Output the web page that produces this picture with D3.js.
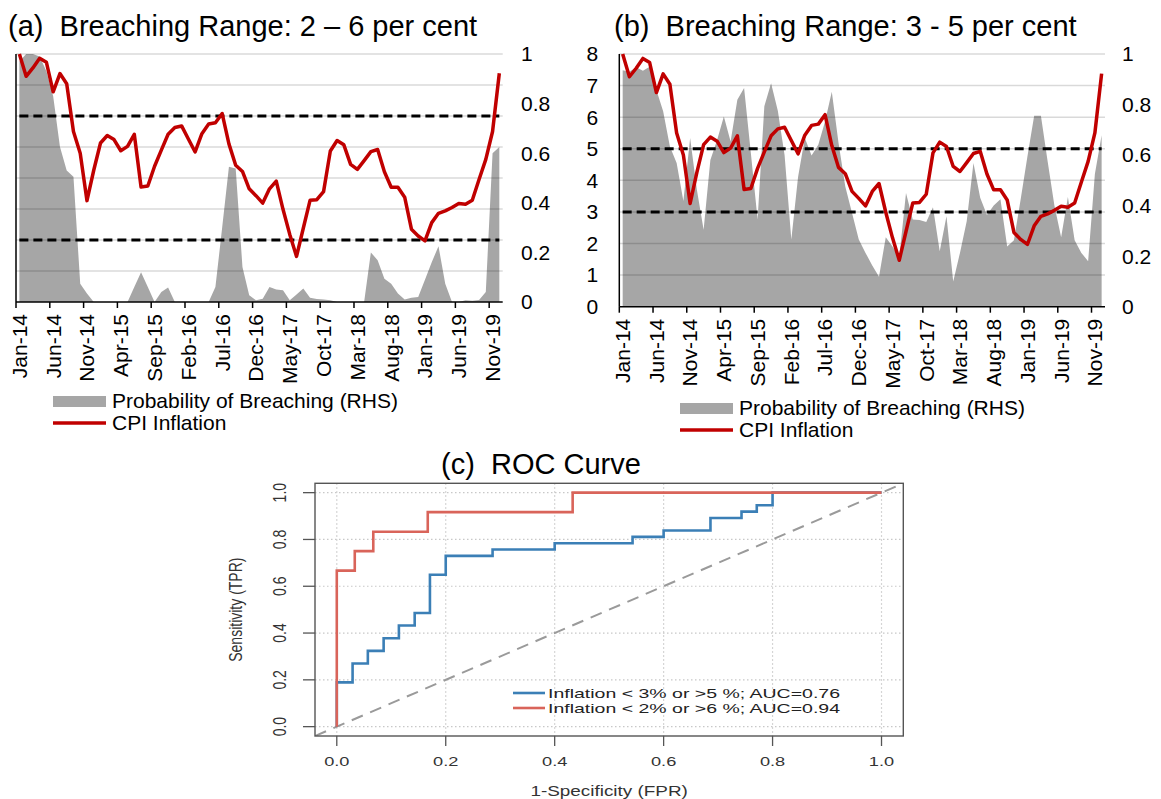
<!DOCTYPE html>
<html>
<head>
<meta charset="utf-8">
<script src="https://cdn.jsdelivr.net/npm/d3@7"></script>
<style>
    body { margin: 0; background: #fff; }
    svg { display: block; font-family: "Liberation Sans", Arial, sans-serif; }
</style>
</head>
<body>
<svg id="chart" width="1161" height="799"></svg>
<script>
// ---- data ----
const tickLabels = ["Jan-14", "Jun-14", "Nov-14", "Apr-15", "Sep-15", "Feb-16", "Jul-16", "Dec-16",
    "May-17", "Oct-17", "Mar-18", "Aug-18", "Jan-19", "Jun-19", "Nov-19"];

// monthly CPI inflation, Jan-14 .. Dec-19 (LHS, per cent)
const cpiInflation = [
    8.0, 7.28, 7.55, 7.86, 7.73, 6.78, 7.37, 7.04, 5.5, 4.8, 3.27, 4.25,
    5.13, 5.37, 5.24, 4.88, 5.02, 5.41, 3.71, 3.74, 4.38, 4.9, 5.41, 5.63,
    5.68, 5.26, 4.84, 5.43, 5.74, 5.78, 6.08, 5.1, 4.41, 4.21, 3.65, 3.43,
    3.19, 3.65, 3.9, 2.99, 2.18, 1.47, 2.38, 3.28, 3.3, 3.56, 4.87, 5.21,
    5.07, 4.44, 4.28, 4.56, 4.85, 4.92, 4.2, 3.7, 3.7, 3.38, 2.35, 2.13,
    1.97, 2.56, 2.86, 2.94, 3.05, 3.18, 3.15, 3.28, 3.95, 4.6, 5.5, 7.38
];

// probability of breaching 2-6 per cent (RHS)
const probRange26 = [
    0.97, 1.0, 1.0, 0.99, 0.93, 0.83, 0.626, 0.53, 0.505, 0.074, 0.034, 0,
    0, 0, 0, 0, 0, 0.06, 0.12, 0.06, 0, 0.04, 0.058, 0,
    0, 0, 0, 0, 0, 0.06, 0.3, 0.545, 0.538, 0.141, 0.027, 0.007,
    0.013, 0.06, 0.05, 0.047, 0.007, 0.03, 0.054, 0.017, 0.012, 0.01, 0.007, 0,
    0, 0, 0, 0, 0.2, 0.168, 0.094, 0.074, 0.034, 0.01, 0.017, 0.02,
    0.09, 0.16, 0.225, 0.074, 0, 0, 0.007, 0.005, 0.008, 0.04, 0.6, 0.625
];

// probability of breaching 3-5 per cent (RHS)
const probRange35 = [
    0.936, 0.93, 0.948, 0.934, 0.95, 0.858, 0.773, 0.634, 0.569, 0.418, 0.668, 0.463,
    0.305, 0.581, 0.66, 0.753, 0.654, 0.819, 0.865, 0.608, 0.345, 0.793, 0.884, 0.775,
    0.6, 0.266, 0.513, 0.668, 0.598, 0.641, 0.733, 0.851, 0.648, 0.476, 0.371, 0.266,
    0.213, 0.163, 0.119, 0.275, 0.238, 0.194, 0.45, 0.345, 0.343, 0.335, 0.394, 0.219,
    0.358, 0.1, 0.213, 0.338, 0.569, 0.431, 0.363, 0.4, 0.425, 0.238, 0.263, 0.425,
    0.594, 0.756, 0.756, 0.575, 0.4, 0.275, 0.434, 0.263, 0.213, 0.18, 0.525, 0.678
];

const leftTicks = [0, 1, 2, 3, 4, 5, 6, 7, 8];
const rightTicks = [0, 0.2, 0.4, 0.6, 0.8, 1];

// ROC curves, step vertices [FPR, TPR]
const rocBlue = [[0, 0], [0, 0.189], [0.029, 0.27], [0.057, 0.324], [0.086, 0.378], [0.114, 0.432],
    [0.143, 0.486], [0.171, 0.649], [0.2, 0.73], [0.286, 0.757], [0.4, 0.784], [0.543, 0.811],
    [0.6, 0.838], [0.686, 0.892], [0.743, 0.919], [0.771, 0.946], [0.8, 1.0], [1.0, 1.0]];
const rocRed = [[0, 0], [0, 0.667], [0.033, 0.75], [0.067, 0.833], [0.167, 0.917], [0.433, 1.0], [1.0, 1.0]];
const rocTicks = [0, 0.2, 0.4, 0.6, 0.8, 1.0];
const rocLegend = [
    { label: "Inflation < 3% or >5 %; AUC=0.76", color: "#3b7fb6" },
    { label: "Inflation < 2% or >6 %; AUC=0.94", color: "#d9645a" }
];

const svg = d3.select("#chart");
const red = "#c00000";
const areaGrey = "#a6a6a6";

// ---- panels (a) and (b) ----
const drawPanel = (p) => {
    const g = svg.append("g");
    const x = d3.scaleLinear().domain([0, 72]).range([p.left, p.right]);
    const yL = d3.scaleLinear().domain([0, 8]).range([p.bottom, p.top]);
    const yR = d3.scaleLinear().domain([0, 1]).range([p.bottom, p.top]);

    g.append("text")
        .attr("x", p.titleX)
        .attr("y", 36)
        .style("white-space", "pre")
        .attr("font-size", 29)
        .text(p.title);

    // probability area
    g.append("path")
        .datum(p.prob)
        .attr("fill", areaGrey)
        .attr("d", d3.area()
            .x((d, i) => x(i + 0.5))
            .y0(yL(0))
            .y1(d => yR(d)));

    // gridlines (drawn over the area, semi transparent)
    g.selectAll(".grid")
        .data(leftTicks.filter(d => d > 0))
        .join("line")
        .attr("x1", p.left)
        .attr("x2", p.right)
        .attr("y1", d => yL(d))
        .attr("y2", d => yL(d))
        .attr("stroke", "#000")
        .attr("stroke-opacity", 0.15)
        .attr("stroke-width", 1.5);

    // breaching band
    g.selectAll(".band")
        .data(p.band)
        .join("line")
        .attr("x1", x(0.5))
        .attr("x2", x(71.5))
        .attr("y1", d => yL(d))
        .attr("y2", d => yL(d))
        .attr("stroke", "#000")
        .attr("stroke-width", 3)
        .attr("stroke-dasharray", "9,5");

    // CPI line
    g.append("path")
        .datum(cpiInflation)
        .attr("fill", "none")
        .attr("stroke", red)
        .attr("stroke-width", 3.5)
        .attr("stroke-linejoin", "round")
        .attr("d", d3.line()
            .x((d, i) => x(i + 0.5))
            .y(d => yL(d)));

    // axes lines
    g.append("line")
        .attr("x1", p.left).attr("x2", p.left)
        .attr("y1", p.top).attr("y2", p.bottom)
        .attr("stroke", "#000").attr("stroke-width", 1.5);
    g.append("line")
        .attr("x1", p.left).attr("x2", p.right)
        .attr("y1", p.bottom).attr("y2", p.bottom)
        .attr("stroke", "#000").attr("stroke-width", 1.5);

    g.selectAll(".xtick")
        .data(tickLabels)
        .join("line")
        .attr("x1", (d, i) => x(i * 5))
        .attr("x2", (d, i) => x(i * 5))
        .attr("y1", p.bottom)
        .attr("y2", p.bottom + 6)
        .attr("stroke", "#000")
        .attr("stroke-width", 1.5);

    g.selectAll(".xlabel")
        .data(tickLabels)
        .join("text")
        .attr("transform", (d, i) => `translate(${x(i * 5 + 0.5)},${p.bottom + 12}) rotate(-90)`)
        .attr("text-anchor", "end")
        .attr("dy", "0.35em")
        .attr("font-size", 21)
        .text(d => d);

    g.selectAll(".rlabel")
        .data(rightTicks)
        .join("text")
        .attr("x", p.rightLabelX)
        .attr("y", d => yR(d))
        .attr("dy", "0.35em")
        .attr("font-size", 21)
        .text(d => d3.format("~g")(d));

    if (p.leftLabels) {
        g.selectAll(".llabel")
            .data(leftTicks)
            .join("text")
            .attr("x", p.left - 21)
            .attr("y", d => yL(d))
            .attr("dy", "0.35em")
            .attr("text-anchor", "end")
            .attr("font-size", 21)
            .text(d => d);
    }

    // legend
    const lg = g.append("g").attr("font-size", 21);
    lg.append("rect")
        .attr("x", p.legendX)
        .attr("y", p.legendY - 5)
        .attr("width", 53)
        .attr("height", 11)
        .attr("fill", areaGrey);
    lg.append("text")
        .attr("x", p.legendX + 59)
        .attr("y", p.legendY + 7)
        .text("Probability of Breaching (RHS)");
    lg.append("line")
        .attr("x1", p.legendX)
        .attr("x2", p.legendX + 53)
        .attr("y1", p.legendY + 22)
        .attr("y2", p.legendY + 22)
        .attr("stroke", red)
        .attr("stroke-width", 3.5);
    lg.append("text")
        .attr("x", p.legendX + 59)
        .attr("y", p.legendY + 29)
        .text("CPI Inflation");
};

drawPanel({
    left: 16, right: 502.7, top: 54, bottom: 302,
    title: "(a)  Breaching Range: 2 \u2013 6 per cent", titleX: 8,
    prob: probRange26, band: [2, 6],
    rightLabelX: 521, leftLabels: false,
    legendX: 53, legendY: 401
});

drawPanel({
    left: 619.3, right: 1105, top: 54, bottom: 306.7,
    title: "(b)  Breaching Range: 3 - 5 per cent", titleX: 614,
    prob: probRange35, band: [3, 5],
    rightLabelX: 1122, leftLabels: true,
    legendX: 680, legendY: 408
});

// ---- panel (c) ROC curve ----
const roc = svg.append("g");
const box = { left: 315, right: 903.3, top: 483.3, bottom: 736 };
const stretch = 1.35;
const rx = d3.scaleLinear().domain([-0.04, 1.04]).range([box.left, box.right]);
const ry = d3.scaleLinear().domain([-0.04, 1.04]).range([box.bottom, box.top]);

roc.append("text")
    .attr("x", 541)
    .attr("y", 474)
    .attr("text-anchor", "middle")
    .style("white-space", "pre")
    .attr("font-size", 29)
    .text("(c)  ROC Curve");

roc.append("clipPath")
    .attr("id", "rocClip")
    .append("rect")
    .attr("x", box.left).attr("y", box.top)
    .attr("width", box.right - box.left)
    .attr("height", box.bottom - box.top);

// dotted grid
roc.selectAll(".vgrid")
    .data(rocTicks)
    .join("line")
    .attr("x1", d => rx(d)).attr("x2", d => rx(d))
    .attr("y1", box.top).attr("y2", box.bottom)
    .attr("stroke", "#c8c8c8").attr("stroke-width", 1.2)
    .attr("stroke-dasharray", "1.5,2.5");
roc.selectAll(".hgrid")
    .data(rocTicks)
    .join("line")
    .attr("x1", box.left).attr("x2", box.right)
    .attr("y1", d => ry(d)).attr("y2", d => ry(d))
    .attr("stroke", "#c8c8c8").attr("stroke-width", 1.2)
    .attr("stroke-dasharray", "1.5,2.5");

// chance diagonal
roc.append("line")
    .attr("clip-path", "url(#rocClip)")
    .attr("x1", rx(-0.04)).attr("y1", ry(-0.04))
    .attr("x2", rx(1.04)).attr("y2", ry(1.04))
    .attr("stroke", "#9a9a9a").attr("stroke-width", 2)
    .attr("stroke-dasharray", "12,8");

const rocLine = d3.line()
    .x(d => rx(d[0]))
    .y(d => ry(d[1]))
    .curve(d3.curveStepAfter);

[[rocBlue, rocLegend[0].color], [rocRed, rocLegend[1].color]].forEach(([pts, col]) => {
    roc.append("path")
        .datum(pts)
        .attr("fill", "none")
        .attr("stroke", col)
        .attr("stroke-width", 2.6)
        .attr("d", rocLine);
});

roc.append("rect")
    .attr("x", box.left).attr("y", box.top)
    .attr("width", box.right - box.left)
    .attr("height", box.bottom - box.top)
    .attr("fill", "none")
    .attr("stroke", "#555").attr("stroke-width", 1.4);

// axes ticks and labels
roc.selectAll(".rxt")
    .data(rocTicks)
    .join("line")
    .attr("x1", d => rx(d)).attr("x2", d => rx(d))
    .attr("y1", box.bottom).attr("y2", box.bottom + 10)
    .attr("stroke", "#555").attr("stroke-width", 1.3);
roc.selectAll(".ryt")
    .data(rocTicks)
    .join("line")
    .attr("x1", box.left - 12).attr("x2", box.left)
    .attr("y1", d => ry(d)).attr("y2", d => ry(d))
    .attr("stroke", "#555").attr("stroke-width", 1.3);

roc.selectAll(".rxl")
    .data(rocTicks)
    .join("text")
    .attr("transform", d => `translate(${rx(d)},766) scale(${stretch},1)`)
    .attr("text-anchor", "middle")
    .attr("font-size", 13.5)
    .attr("fill", "#333")
    .text(d => d3.format(".1f")(d));
roc.selectAll(".ryl")
    .data(rocTicks)
    .join("text")
    .attr("transform", d => `translate(286,${ry(d)}) scale(${stretch},1) rotate(-90)`)
    .attr("text-anchor", "middle")
    .attr("font-size", 14)
    .attr("fill", "#333")
    .text(d => d3.format(".1f")(d));

roc.append("text")
    .attr("transform", `translate(${rx(0.5)},796) scale(${stretch},1)`)
    .attr("text-anchor", "middle")
    .attr("font-size", 14)
    .attr("fill", "#333")
    .text("1-Specificity (FPR)");
roc.append("text")
    .attr("transform", `translate(242,${ry(0.5)}) scale(${stretch},1) rotate(-90)`)
    .attr("text-anchor", "middle")
    .attr("font-size", 14)
    .attr("fill", "#333")
    .text("Sensitivity (TPR)");

// legend
const rl = roc.selectAll(".rleg")
    .data(rocLegend)
    .join("g")
    .attr("transform", (d, i) => `translate(513,${693 + i * 15})`);
rl.append("line")
    .attr("x1", 0).attr("x2", 32)
    .attr("stroke", d => d.color)
    .attr("stroke-width", 2.6);
rl.append("text")
    .attr("transform", "translate(35,5) scale(1.5,1)")
    .attr("font-size", 13)
    .attr("fill", "#222")
    .text(d => d.label);
</script>
</body>
</html>
